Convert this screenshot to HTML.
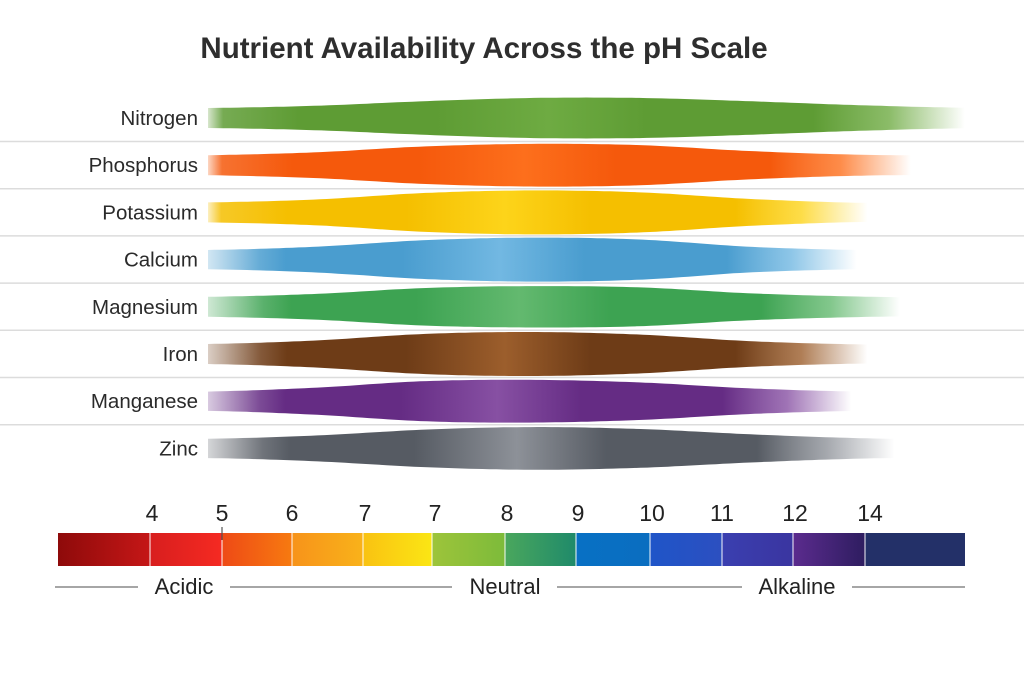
<!DOCTYPE html>
<html><head><meta charset="utf-8"><style>
html,body{margin:0;padding:0;background:#fff;}
svg{display:block;font-family:"Liberation Sans","DejaVu Sans",sans-serif;}
</style></head><body>
<svg id="chart" width="1024" height="683" viewBox="0 0 1024 683">
<defs id="defs"></defs>
<text x="484" y="58" text-anchor="middle" font-size="29.5" font-weight="bold" fill="#2e2e2e">Nutrient Availability Across the pH Scale</text>
<g id="bands"></g>
<g id="scale"></g>
</svg>
<script>
const nutrients = ["Nitrogen","Phosphorus","Potassium","Calcium","Magnesium","Iron","Manganese","Zinc"];
const phPoints = [4,5,6,7,8,9,10,11];
const nitrogenVals   = [0.08,0.25,0.6,0.85,0.85,0.6,0.3,0.1];
const phosphorusVals = [0.08,0.3,0.75,0.95,0.85,0.4,0.12,0.05];
const potassiumVals  = [0.08,0.3,0.8,1.0,0.85,0.35,0.05,0.0];
const calciumVals    = [0.05,0.3,0.8,1.0,0.85,0.3,0.05,0.0];
const magnesiumVals  = [0.08,0.3,0.75,0.9,0.8,0.35,0.1,0.0];
const ironVals       = [0.08,0.35,0.85,1.0,0.8,0.3,0.05,0.0];
const manganeseVals  = [0.05,0.35,0.85,0.95,0.75,0.3,0.05,0.0];
const zincVals       = [0.05,0.3,0.75,0.95,0.8,0.4,0.1,0.0];
const endPh = [11,10.5,10.1,10.0,10.4,10.1,9.95,10.35];
const seriesVals = [nitrogenVals,phosphorusVals,potassiumVals,calciumVals,magnesiumVals,ironVals,manganeseVals,zincVals];
const darkColors  = ["#5e9c34","#f5590c","#f5bf00","#4a9dcf","#3da352","#6e3c17","#652c84","#565b63"];
const lightColors = ["#6eab42","#fd6f1c","#fdd41a","#72b8e2","#63b96f","#9c5e2c","#8750a3","#8d9198"];
const scaleLabels = ["4","5","6","7","7","8","9","10","11","12","14"];
const segColorsA = ["#8e0a0a","#d81e1e","#ee4a16","#f7931a","#f9c212","#9dc43a","#4aa75d","#0870c4","#1f55c8","#3a3fb0","#5b2b8e","#233068"];
const segColorsB = ["#c51717","#f52a22","#f77a10","#f9b21a","#fbe614","#7dbb3a","#1f8a6a","#0a6ec0","#2c4fc0","#3a35a0","#2e1d60","#233068"];

const NS="http://www.w3.org/2000/svg";
const defs=document.getElementById('defs');
const bands=document.getElementById('bands');
const scaleG=document.getElementById('scale');
function mk(t,a){const e=document.createElementNS(NS,t);for(const k in a)e.setAttribute(k,a[k]);return e;}
const xPh = ph => 208 + (ph-4)*108.1;
const hw = v => 9 + 13*v;
const rowY = i => 118 + i*47.2;

function interp(vals, ph){
  const n=vals.length;
  if(ph<=phPoints[0]) return vals[0];
  if(ph>=phPoints[n-1]) return vals[n-1];
  let i=0; while(ph>phPoints[i+1]) i++;
  const t=(ph-phPoints[i])/(phPoints[i+1]-phPoints[i]);
  const p0=vals[Math.max(i-1,0)],p1=vals[i],p2=vals[i+1],p3=vals[Math.min(i+2,n-1)];
  return 0.5*((2*p1)+(-p0+p2)*t+(2*p0-5*p1+4*p2-p3)*t*t+(-p0+3*p1-3*p2+p3)*t*t*t);
}

for(let i=0;i<nutrients.length-1;i++){
  const y=rowY(i)+23.5;
  const l=mk('line',{x1:0,x2:1024,y1:y,y2:y,stroke:'#dcdcdc','stroke-width':1.5});
  
  
  bands.appendChild(l);
}

nutrients.forEach((n,i)=>{
  const cy=rowY(i), vals=seriesVals[i], end=endPh[i];
  const x0=xPh(4), x1=xPh(end);
  const gid='g'+i;
  const g=mk('linearGradient',{id:gid,x1:x0,x2:x1,y1:0,y2:0,gradientUnits:'userSpaceOnUse'});
  const fadeL = (i<3)?0.02:0.08;
  const stops=[[0,darkColors[i],0.25],[fadeL,darkColors[i],0.85],[0.12,darkColors[i],1],[0.3,darkColors[i],1],[0.45,lightColors[i],1],[0.58,darkColors[i],1],[0.8,darkColors[i],1],[0.9,lightColors[i],0.8],[1,lightColors[i],0]];
  stops.forEach(s=>g.appendChild(mk('stop',{offset:s[0],'stop-color':s[1],'stop-opacity':s[2]})));
  defs.appendChild(g);
  let top=[],bot=[];
  for(let k=0;k<=100;k++){
    const ph=4+(end-4)*k/100;
    const x=xPh(ph), h=hw(Math.max(0,interp(vals,ph)));
    top.push(x.toFixed(1)+','+(cy-h).toFixed(1));
    bot.unshift(x.toFixed(1)+','+(cy+h).toFixed(1));
  }
  const p=mk('path',{d:'M'+top.join(' L')+' L'+bot.join(' L')+'Z',fill:'url(#'+gid+')'});
  
  
  bands.appendChild(p);
  const t=mk('text',{x:198,y:cy+7,'text-anchor':'end','font-size':20.5,fill:'#2a2a2a'});
  t.textContent=n;
  
  
  bands.appendChild(t);
});

const segEdges=[58,150,222,292,363,432,505,576,650,722,793,865,965];
segColorsA.forEach((c,i)=>{
  const gid='s'+i;
  const g=mk('linearGradient',{id:gid,x1:0,x2:1,y1:0,y2:0});
  g.appendChild(mk('stop',{offset:0,'stop-color':c}));
  g.appendChild(mk('stop',{offset:1,'stop-color':segColorsB[i]}));
  defs.appendChild(g);
  const r=mk('rect',{x:segEdges[i],y:533,width:segEdges[i+1]-segEdges[i],height:33,fill:'url(#'+gid+')'});
  
  
  scaleG.appendChild(r);
  if(i>0){
    const l=mk('line',{x1:segEdges[i],x2:segEdges[i],y1:533,y2:566,stroke:'#fff','stroke-width':1.2,'stroke-opacity':0.8});
    
    
    scaleG.appendChild(l);
  }
});
const labelX=[152,222,292,365,435,507,578,652,722,795,870];
scaleLabels.forEach((s,i)=>{
  const t=mk('text',{x:labelX[i],y:521,'text-anchor':'middle','font-size':23,fill:'#222'});
  t.textContent=s;
  
  
  scaleG.appendChild(t);
});
const tick=mk('line',{x1:222,x2:222,y1:527,y2:540,stroke:'#333','stroke-width':1});


scaleG.appendChild(tick);

const zoneLines=[[55,138],[230,452],[557,742],[852,965]];
zoneLines.forEach(z=>{
  const l=mk('line',{x1:z[0],x2:z[1],y1:587,y2:587,stroke:'#888','stroke-width':1.5});
  
  
  scaleG.appendChild(l);
});
[["Acidic",184],["Neutral",505],["Alkaline",797]].forEach(z=>{
  const t=mk('text',{x:z[1],y:594,'text-anchor':'middle','font-size':22,fill:'#222'});
  t.textContent=z[0];
  
  
  scaleG.appendChild(t);
});
</script>
</body></html>
